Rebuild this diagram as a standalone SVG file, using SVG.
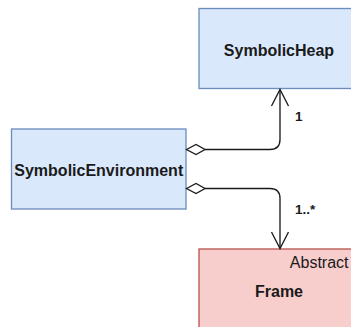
<svg xmlns="http://www.w3.org/2000/svg" width="351" height="327" viewBox="0 0 351 327">
  <style>
    .cls-blue { fill: #dae8fc; stroke: #6c8ebf; stroke-width: 1.33; }
    .cls-red { fill: #f8cecc; stroke: #b85450; stroke-width: 1.33; }
    .name { font-family: "Liberation Sans", Arial, sans-serif; font-size: 16px; font-weight: bold; fill: #1a1a1a; text-anchor: middle; }
    .stereo { font-family: "Liberation Sans", Arial, sans-serif; font-size: 16px; fill: #1a1a1a; text-anchor: end; }
    .edge { fill: none; stroke: #1a1a1a; stroke-width: 1.33; }
    .diamond { fill: #ffffff; stroke: #1a1a1a; stroke-width: 1.33; }
    .mult { font-family: "Liberation Sans", Arial, sans-serif; font-size: 13.5px; font-weight: bold; fill: #1a1a1a; }
  </style>

  <g id="symbolic-heap">
    <rect class="cls-blue" x="199" y="8.5" width="160" height="80"/>
    <text class="name" x="279" y="55.5">SymbolicHeap</text>
  </g>

  <g id="symbolic-environment">
    <rect class="cls-blue" x="11.5" y="129" width="174.5" height="80"/>
    <text class="name" x="98.75" y="176">SymbolicEnvironment</text>
  </g>

  <g id="frame">
    <rect class="cls-red" x="199" y="249" width="160" height="90"/>
    <text class="stereo" x="348.5" y="268">Abstract</text>
    <text class="name" x="279" y="296.5">Frame</text>
  </g>

  <g id="connectors">
    <!-- aggregation: environment to heap -->
    <path class="edge" d="M205,149.5 H270 Q280,149.5 280,139.5 V89.5"/>
    <path class="diamond" d="M186.5,149.5 L196,144.5 L205,149.5 L196,154.5 Z"/>
    <path class="edge" d="M271.5,106 L280,89.5 L288.5,106"/>
    <text class="mult" x="295" y="121">1</text>

    <!-- aggregation: environment to frames -->
    <path class="edge" d="M205,188.5 H270 Q280,188.5 280,198.5 V248.5"/>
    <path class="diamond" d="M186.5,188.5 L196,183.5 L205,188.5 L196,193.5 Z"/>
    <path class="edge" d="M271.5,232 L280,248.5 L288.5,232"/>
    <text class="mult" x="295" y="213.5">1..*</text>
  </g>
</svg>
